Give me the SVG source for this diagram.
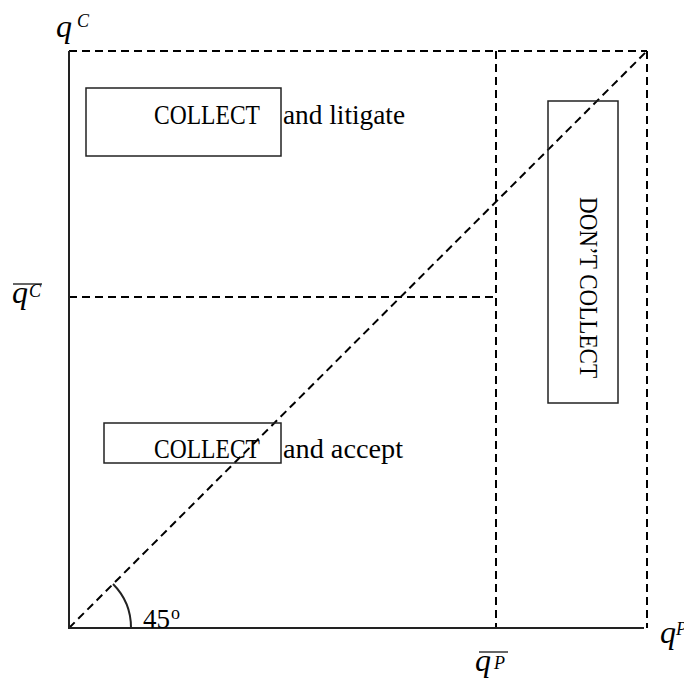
<svg xmlns="http://www.w3.org/2000/svg" width="684" height="680" viewBox="0 0 684 680">
<style>
.axis{stroke:#222;stroke-width:2;fill:none}
.dash{stroke:#000;stroke-width:2;stroke-dasharray:8,5;fill:none}
.box{stroke:#222;stroke-width:1.5;fill:none}
.t{font-family:"Liberation Serif",serif;font-size:27px;fill:#000}
.m{font-family:"Liberation Serif",serif;font-style:italic;font-size:32px;fill:#000}
.s{font-size:18px}
</style>
<rect width="684" height="680" fill="#fff"/>
<g id="connectors">
<line class="dash" x1="69" y1="51" x2="647" y2="51"/>
<line class="dash" x1="647" y1="51" x2="647" y2="628"/>
<line class="dash" x1="69" y1="297" x2="496" y2="297"/>
<line class="dash" x1="496" y1="51" x2="496" y2="628"/>
<line class="dash" x1="69" y1="628" x2="647" y2="51"/>
<line class="axis" x1="69" y1="51" x2="69" y2="629"/>
<line class="axis" x1="68" y1="628" x2="644" y2="628"/>
<path class="axis" d="M131,628 A62,62 0 0 0 113,584" stroke-width="1.5"/>
</g>
<g id="collect-litigate">
<rect class="box" x="86" y="88" width="195" height="68"/>
<text class="t" x="154" y="124" textLength="106" lengthAdjust="spacingAndGlyphs">COLLECT</text>
<text class="t" x="283" y="124" textLength="122" lengthAdjust="spacingAndGlyphs">and litigate</text>
</g>
<g id="collect-accept">
<rect class="box" x="104" y="423" width="177" height="40"/>
<text class="t" x="154" y="458" textLength="106" lengthAdjust="spacingAndGlyphs">COLLECT</text>
<text class="t" x="283" y="458" textLength="120" lengthAdjust="spacingAndGlyphs">and accept</text>
</g>
<g id="dont-collect">
<rect class="box" x="548" y="101" width="70" height="302"/>
<text class="t" transform="translate(580,197) rotate(90)" x="0" y="0" textLength="181" lengthAdjust="spacingAndGlyphs" style="font-size:25px">DON’T COLLECT</text>
</g>
<g id="labels">
<text class="m" x="56" y="37">q<tspan class="s" dy="-10" x="77">C</tspan></text>
<line x1="13" y1="284" x2="42" y2="284" stroke="#000" stroke-width="1.2"/>
<text class="m" x="12" y="303">q<tspan class="s" dy="-6" x="29">C</tspan></text>
<line x1="479" y1="652" x2="508" y2="652" stroke="#000" stroke-width="1.2"/>
<text class="m" x="475" y="671">q<tspan class="s" dy="-2" x="494">P</tspan></text>
<text class="m" x="660" y="643">q<tspan class="s" dy="-8" x="676">P</tspan></text>
<text class="t" x="143" y="628" textLength="27" lengthAdjust="spacingAndGlyphs">45</text>
<text class="t" x="171" y="619" style="font-size:18px">o</text>
</g>
</svg>
